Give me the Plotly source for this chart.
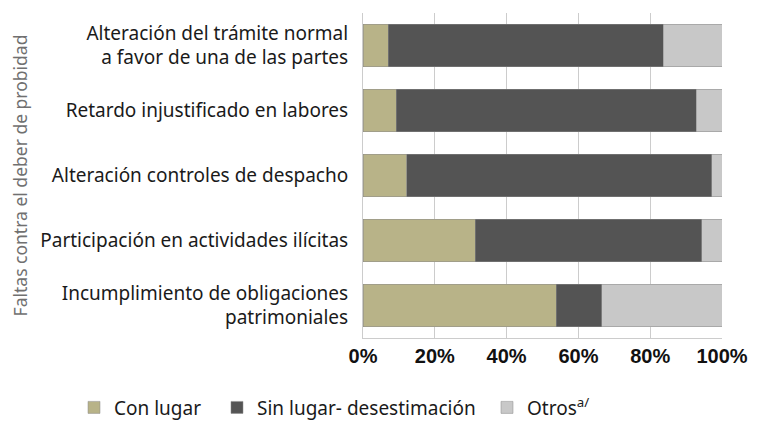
import plotly.graph_objects as go

categories = [
    "Alteración del trámite normal<br>a favor de una de las partes",
    "Retardo injustificado en labores",
    "Alteración controles de despacho",
    "Participación en actividades ilícitas",
    "Incumplimiento de obligaciones<br>patrimoniales",
]
con_lugar = [7.0, 9.3, 12.2, 31.3, 53.8]
sin_lugar = [76.7, 83.5, 84.9, 63.0, 12.7]
otros = [16.3, 7.2, 2.9, 5.7, 33.5]
tick_vals = [0, 20, 40, 60, 80, 100]
tick_text = ["0%", "20%", "40%", "60%", "80%", "100%"]

series = [
    ("Con lugar", con_lugar, "#B8B388", "legend"),
    ("Sin lugar- desestimación", sin_lugar, "#545454", "legend2"),
    ("Otros<sup>a/</sup>", otros, "#C8C8C8", "legend3"),
]

fig = go.Figure()
for name, vals, color, leg in series:
    fig.add_trace(go.Bar(
        y=categories, x=vals, name=name, orientation="h", legend=leg,
        marker=dict(color=color, line=dict(color="#8a8a8a", width=0.5)),
    ))

leg_common = dict(orientation="h", xanchor="left", xref="paper",
                  y=0.051, yanchor="middle", yref="container",
                  font=dict(size=19, color="#1a1a1a"), bgcolor="rgba(0,0,0,0)")

fig.update_layout(
    barmode="stack",
    bargap=0.34,
    width=768, height=421,
    margin=dict(l=355, r=54, t=5, b=91),
    plot_bgcolor="white", paper_bgcolor="white",
    font=dict(family="Noto Sans", size=18, color="#1a1a1a"),
    showlegend=True,
    legend=dict(x=-0.805, **leg_common),
    legend2=dict(x=-0.4067, **leg_common),
    legend3=dict(x=0.3454, **leg_common),
)
fig.update_xaxes(
    range=[0, 100], tickvals=tick_vals, ticktext=tick_text,
    showgrid=True, gridcolor="#cccccc", gridwidth=1,
    showline=True, linecolor="#cccccc", ticks="inside", ticklen=5, tickcolor="#cccccc",
    tickfont=dict(family="Liberation Sans", size=20, color="#111111", weight="bold"),
    zeroline=False, automargin=False,
)
fig.update_yaxes(
    autorange="reversed", automargin=False,
    showline=True, linecolor="#cccccc",
    ticks="", ticklabelstandoff=10,
    tickfont=dict(size=19, color="#1a1a1a"),
    title=dict(text="Faltas contra el deber de probidad", font=dict(size=17.5, color="#707070"),
               standoff=13),
)
fig.write_html("out.html")
